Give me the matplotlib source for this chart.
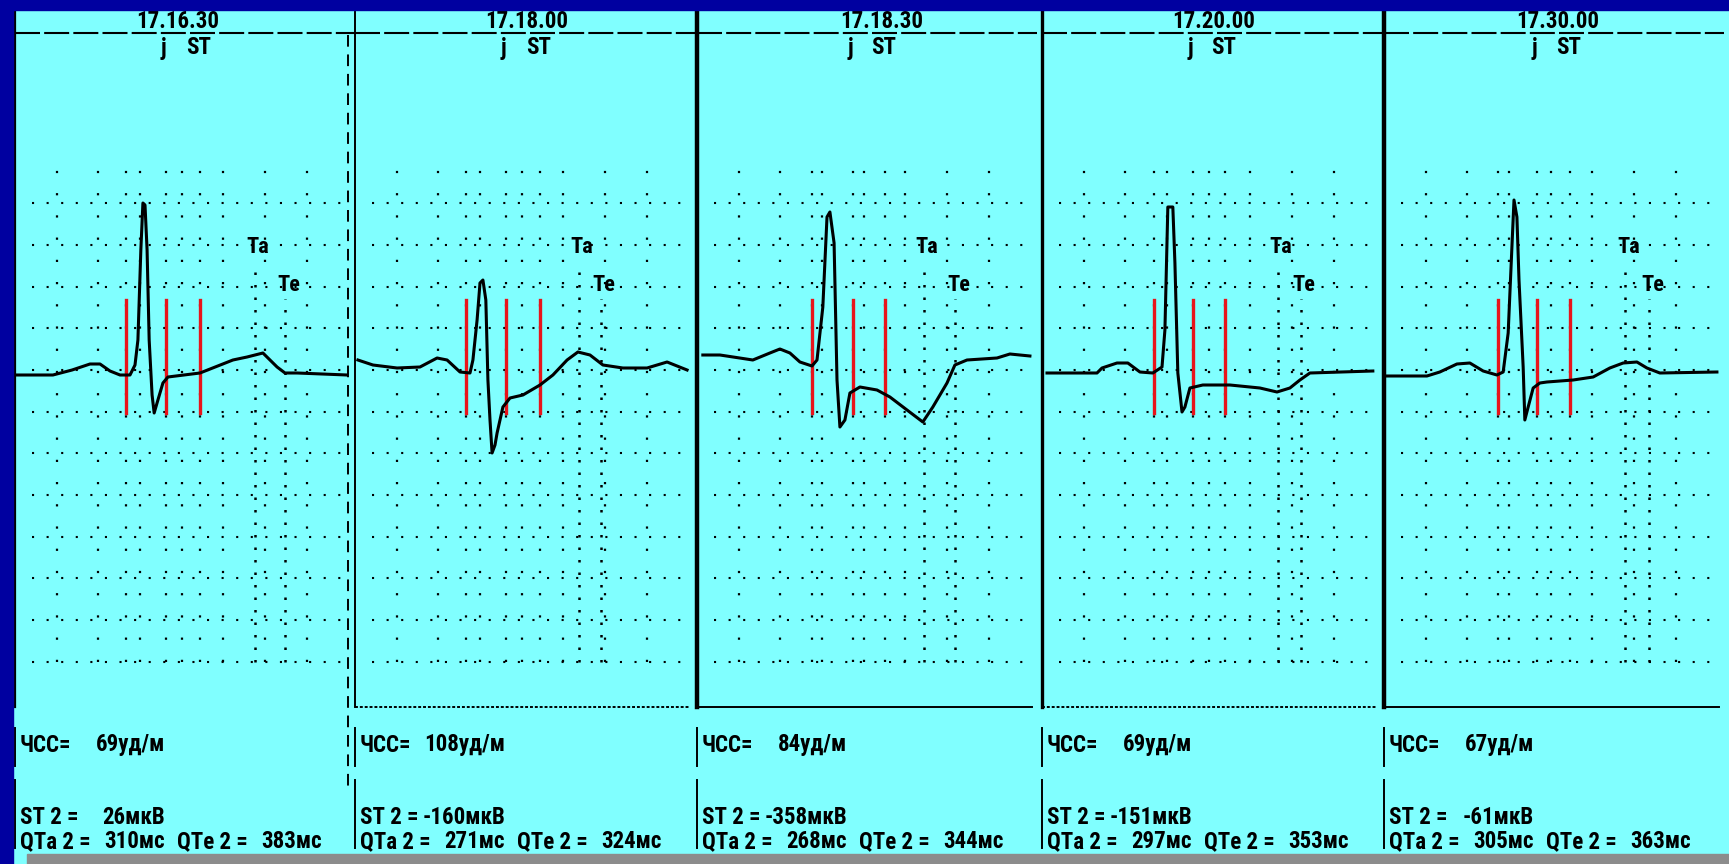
import matplotlib
matplotlib.use("Agg")
import matplotlib.pyplot as plt
from matplotlib.patches import Rectangle
from matplotlib.transforms import blended_transform_factory

# ---------------- data ----------------
times = ["17.16.30", "17.18.00", "17.18.30", "17.20.00", "17.30.00"]
hr_bpm = [69, 108, 84, 69, 67]           # ЧСС, уд/м
st2_uv = [26, -160, -358, -151, -61]     # ST 2, мкВ
qta_ms = [310, 271, 268, 297, 305]       # QTa 2, мс
qte_ms = [383, 324, 344, 353, 363]       # QTe 2, мс

# red markers (ms from strip start): Q onset, j point, ST point
red_q = [266, 266, 276, 269, 274]
red_j = [362, 362, 374, 362, 367]
red_st = [444, 444, 451, 439, 446]

# averaged ECG complexes: time (ms) and amplitude (µV)
ecg1_t = [5, 91, 137, 180, 204, 228, 252, 276, 288, 295, 302, 307, 312, 317, 322, 329, 334, 343, 355, 367, 444, 523, 557, 595, 629, 648, 677, 797]
ecg1_v = [-60, -60, 0, 72, 72, -12, -60, -60, 60, 360, 1440, 2004, 1980, 1440, 360, -300, -516, -360, -156, -84, -36, 120, 156, 204, 36, -36, -36, -60]

ecg2_t = [7, 43, 101, 156, 197, 221, 252, 276, 283, 293, 300, 307, 314, 319, 324, 329, 336, 341, 355, 372, 403, 444, 475, 509, 535, 564, 595, 643, 701, 749, 797]
ecg2_v = [120, 60, 24, 36, 144, 120, -24, -36, 120, 600, 1044, 1080, 840, -120, -600, -996, -900, -756, -444, -336, -300, -180, -60, 120, 216, 180, 60, 24, 24, 96, 0]

ecg3_t = [14, 55, 134, 175, 199, 223, 247, 276, 288, 302, 312, 319, 329, 336, 343, 355, 367, 391, 432, 463, 504, 542, 566, 600, 619, 648, 720, 751, 799]
ecg3_v = [180, 180, 120, 204, 252, 204, 96, 48, 120, 756, 1836, 1896, 1524, -120, -684, -600, -276, -204, -240, -324, -480, -624, -444, -156, 60, 120, 144, 192, 168]

ecg4_t = [12, 132, 144, 180, 206, 235, 266, 288, 295, 302, 314, 319, 326, 336, 343, 355, 386, 451, 523, 564, 595, 619, 643, 794]
ecg4_v = [-36, -36, 24, 84, 84, -24, -36, 36, 480, 1956, 1956, 1284, -36, -504, -444, -216, -180, -180, -216, -264, -216, -120, -36, -12]

ecg5_t = [7, 103, 134, 175, 206, 238, 271, 286, 298, 307, 312, 319, 324, 334, 338, 346, 358, 374, 391, 454, 502, 542, 574, 607, 631, 662, 799]
ecg5_v = [-72, -72, -24, 72, 84, -12, -60, -24, 444, 1476, 2040, 1836, 1080, 36, -600, -444, -216, -156, -144, -120, -84, 24, 84, 96, 24, -36, -24]

ecg_t = [ecg1_t, ecg2_t, ecg3_t, ecg4_t, ecg5_t]
ecg_v = [ecg1_v, ecg2_v, ecg3_v, ecg4_v, ecg5_v]

# ---------------- style / layout ----------------
W, H = 1729, 864
BG = "#80FFFF"
NAVY = "#0000A0"
GREY = "#8C8C8C"
RED = "#E8141B"
FONT = ["Roboto Condensed", "DejaVu Sans"]
TXT = dict(fontweight="bold", family=FONT, fontstretch="condensed")
MS_PER_PX = 2.4
UV_PER_PX = 12.0
AX_TOP, AX_BOT, ISO = 33, 707, 370          # pixel rows of the strip
PANEL_LEFT = [15, 355, 697, 1042, 1384]
PANEL_W = 340
TITLE_DX = [163, 172, 185, 172, 174]
BORDER_LW = [1.6, 1.4, 3.2, 2.4, 3.2]
GRID_MS = 100
GRID_UV = 500
FS_HEAD = 16.5
FS_INFO = 16.5


def yf(ypx):
    return (AX_BOT - ypx) / (AX_BOT - AX_TOP)


def ftext(xpx, ypx, s, ha="left"):
    fig.text(xpx / W, 1 - ypx / H, s, ha=ha, va="center", fontsize=FS_INFO, **TXT)


fig = plt.figure(figsize=(W / 100, H / 100), dpi=100, facecolor=BG)

for i in range(5):
    L = PANEL_LEFT[i]
    ax = fig.add_axes([L / W, 1 - AX_BOT / H, PANEL_W / W, (AX_BOT - AX_TOP) / H])
    ax.set_facecolor("none")
    xmax = PANEL_W * MS_PER_PX
    ax.set_xlim(0, xmax)
    ax.set_ylim(-(AX_BOT - ISO) * UV_PER_PX, (ISO - AX_TOP) * UV_PER_PX)
    ax.axis("off")
    bt = blended_transform_factory(ax.transData, ax.transAxes)

    # dotted grid: rows every 0.5 mV, columns every 100 ms
    for k in range(-7, 5):
        ax.plot([40, xmax - 30], [k * GRID_UV, k * GRID_UV], color="k",
                lw=1.5, ls=(0, (1, 6)), zorder=1)
    cols = [GRID_MS * n for n in range(1, 8)] + [red_q[i], red_j[i], red_st[i]]
    for c in cols:
        ax.plot([c, c], [-3500, 2600], color="k", lw=1.6, ls=(0, (1, 9)), zorder=1)

    ta = red_q[i] + qta_ms[i]
    te = red_q[i] + qte_ms[i]
    ax.plot([ta, ta], [-3500, 1300], color="k", lw=1.8, ls=(0, (1, 4)), zorder=1)
    ax.plot([te, te], [-3500, 850], color="k", lw=1.8, ls=(0, (1, 4)), zorder=1)
    ax.annotate("Ta", (ta, (ISO - 247) * UV_PER_PX), xytext=(-6, 0),
                textcoords="offset points", ha="left", va="center",
                fontsize=16, zorder=4, **TXT)
    ax.annotate("Te", (te, (ISO - 285) * UV_PER_PX), xytext=(-6, 0),
                textcoords="offset points", ha="left", va="center",
                fontsize=16, zorder=4, **TXT)

    # red markers
    for r in (red_q[i], red_j[i], red_st[i]):
        ax.axvline(r, ymin=yf(413), ymax=yf(300), color=RED, lw=2.4, zorder=3)

    # ECG trace
    ax.plot(ecg_t[i], ecg_v[i], color="k", lw=2.2, solid_joinstyle="round", zorder=5)

    # header: time title, line, j / ST labels
    ax.text(TITLE_DX[i] * MS_PER_PX, yf(21), times[i], transform=bt, ha="center",
            va="center", fontsize=FS_HEAD, **TXT)
    ax.plot([0, 1], [1, 1], transform=ax.transAxes, clip_on=False, color="k",
            lw=1.5, ls=(0, (12, 2)))
    ax.text(red_j[i] - 6, yf(48), "j", transform=bt, ha="center", va="center",
            fontsize=FS_HEAD, **TXT)
    ax.text(red_st[i] - 4, yf(48), "ST", transform=bt, ha="center", va="center",
            fontsize=FS_HEAD, **TXT)

    # panel borders
    for y0, y1, lw in [(12, AX_BOT, BORDER_LW[i]), (728, 766, 1.4), (780, 848, 1.4)]:
        ax.plot([0, 0], [yf(y0), yf(y1)], transform=ax.transAxes, clip_on=False,
                color="k", lw=lw)
    if i == 0:
        ax.plot([800, 800], [yf(35), yf(790)], transform=bt, clip_on=False,
                color="k", lw=1.4, ls=(0, (6, 4)))
    else:
        ax.plot([0, 0.985], [0, 0], transform=ax.transAxes, clip_on=False,
                color="k", lw=1.4, ls=(0, (1.5, 1)) if i in (1, 3) else "-")

    # measurement texts
    x0 = L + 5
    ftext(x0, 745, "ЧСС=")
    ftext(x0 + 145, 745, f"{hr_bpm[i]}уд/м", ha="right")
    ftext(x0, 818, "ST 2 =")
    ftext(x0 + 145, 818, f"{st2_uv[i]}мкВ", ha="right")
    ftext(x0, 842, "QTa 2 =")
    ftext(x0 + 145, 842, f"{qta_ms[i]}мс", ha="right")
    ftext(x0 + 157, 842, "QTe 2 =")
    ftext(x0 + 302, 842, f"{qte_ms[i]}мс", ha="right")

# frame of the slide
fig.patches.append(Rectangle((0, 1 - 10 / H), 1, 10 / H, transform=fig.transFigure,
                             color=NAVY, zorder=10))
fig.patches.append(Rectangle((0, 0), 13 / W, 1, transform=fig.transFigure,
                             color=NAVY, zorder=10))
fig.patches.append(Rectangle((27 / W, 0), 1, 10 / H, transform=fig.transFigure,
                             color=GREY, zorder=10))

fig.savefig("out.png", dpi=100, facecolor=BG)
